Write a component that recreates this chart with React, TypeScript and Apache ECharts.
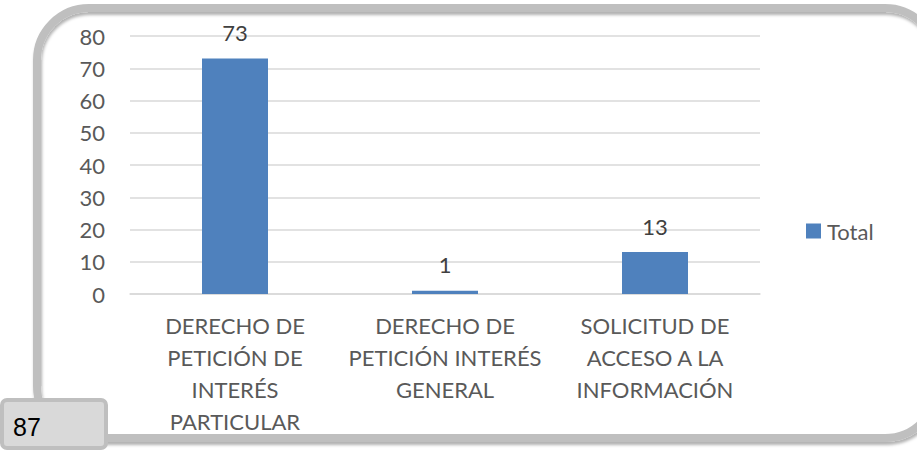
import React, { useEffect, useRef } from "react";
import * as echarts from "echarts";

const categories = [
  "DERECHO DE\nPETICIÓN DE\nINTERÉS\nPARTICULAR",
  "DERECHO DE\nPETICIÓN INTERÉS\nGENERAL",
  "SOLICITUD DE\nACCESO A LA\nINFORMACIÓN",
];
const totals = [73, 1, 13];
const seriesName = "Total";
const boxLabel = "87";

export default function App() {
  const ref = useRef<HTMLDivElement>(null);
  useEffect(() => {
    if (!ref.current) return;
    const chart = echarts.init(ref.current, null, { renderer: "svg" });
    const font = "Lato, 'Open Sans', sans-serif";
    chart.setOption({
      animation: false,
      backgroundColor: "#ffffff",
      grid: { left: 130, right: 157, top: 36, bottom: 157, containLabel: false },
      legend: {
        data: [seriesName],
        left: 806,
        top: 220,
        padding: 0,
        icon: "rect",
        itemWidth: 15,
        itemHeight: 15,
        itemGap: 6,
        textStyle: { fontFamily: font, fontSize: 22, color: "#595959", padding: [0, 0, 0, 1] },
      },
      xAxis: {
        type: "category",
        data: categories,
        axisTick: { show: false },
        axisLine: { lineStyle: { color: "#d9d9d9", width: 1.5 } },
        axisLabel: {
          interval: 0,
          margin: 15,
          fontFamily: font,
          fontSize: 22,
          lineHeight: 32,
          color: "#595959",
          align: "center",
        },
      },
      yAxis: {
        type: "value",
        min: 0,
        max: 80,
        interval: 10,
        axisLine: { show: false },
        axisTick: { show: false },
        splitLine: { lineStyle: { color: "#d9d9d9", width: 1.5 } },
        axisLabel: { margin: 25, fontFamily: font, fontSize: 22, color: "#595959" },
      },
      series: [
        {
          name: seriesName,
          type: "bar",
          data: totals,
          barWidth: 66,
          itemStyle: { color: "#4f81bd" },
          label: {
            show: true,
            position: "top",
            distance: 15,
            fontFamily: font,
            fontSize: 22,
            color: "#404040",
          },
        },
      ],
      graphic: [
        {
          type: "rect",
          z: -10,
          silent: true,
          shape: { x: 37, y: 8, width: 900, height: 430, r: 52 },
          style: {
            fill: "none",
            stroke: "#bfbfbf",
            lineWidth: 8,
            shadowBlur: 3,
            shadowOffsetY: 3,
            shadowOffsetX: 1,
            shadowColor: "rgba(0,0,0,0.3)",
          },
        },
        {
          type: "rect",
          z: 10,
          silent: true,
          shape: { x: 2, y: 400, width: 104, height: 48, r: 5 },
          style: { fill: "#d9d9d9", stroke: "#bfbfbf", lineWidth: 4 },
        },
        {
          type: "text",
          z: 11,
          silent: true,
          x: 13,
          y: 427,
          style: {
            text: boxLabel,
            fontFamily: "'Liberation Sans', Arial, sans-serif",
            fontSize: 25,
            fill: "#000000",
            verticalAlign: "middle",
          },
        },
      ],
    });
    return () => chart.dispose();
  }, []);
  return (
    <div
      ref={ref}
      style={{ position: "fixed", left: 0, top: 0, width: 917, height: 451 }}
    />
  );
}
